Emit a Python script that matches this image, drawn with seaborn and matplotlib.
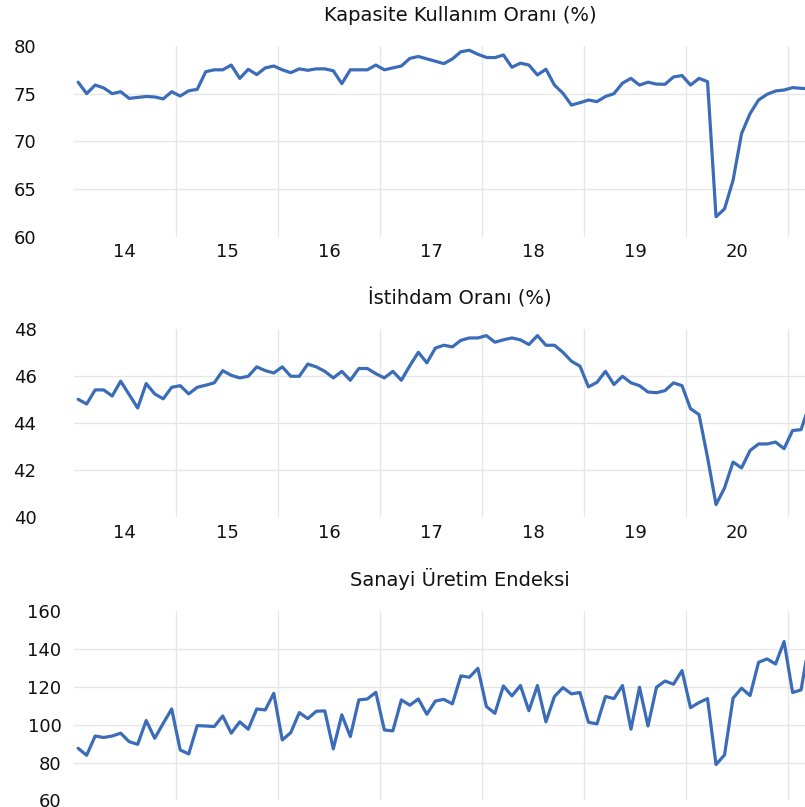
import numpy as np
import pandas as pd
import matplotlib
matplotlib.use("Agg")
import matplotlib.pyplot as plt
import seaborn as sns

# monthly series, Jan 2014 onwards
months = pd.date_range("2014-01-01", periods=87, freq="MS")

kapasite = [76.2, 75.0, 75.9, 75.6, 75.0, 75.2, 74.5, 74.6, 74.7, 74.65, 74.45, 75.2, 74.75, 75.3, 75.45,
            77.3, 77.5, 77.5, 78.0, 76.6, 77.55, 77.0, 77.7, 77.9, 77.5, 77.2, 77.6, 77.45, 77.6, 77.6,
            77.4, 76.05, 77.5, 77.5, 77.5, 78.0, 77.5, 77.7, 77.9, 78.7, 78.9, 78.65, 78.4,
            78.15, 78.64, 79.4, 79.55, 79.13, 78.8, 78.78, 79.06, 77.77, 78.2, 78.0, 76.96, 77.56, 75.9, 75.03,
            73.8, 74.05, 74.33, 74.16, 74.7, 75.0, 76.1, 76.6, 75.9, 76.2, 76.0, 75.98, 76.75, 76.9, 75.9,
            76.6, 76.26, 62.08, 62.9, 65.9, 70.8, 72.9, 74.33, 74.93, 75.28, 75.38, 75.63, 75.56, 75.5]

istihdam = [45.02, 44.82, 45.42, 45.42, 45.16, 45.79, 45.22, 44.65, 45.69, 45.25, 45.04, 45.53, 45.6, 45.25, 45.53,
            45.62, 45.72, 46.24, 46.04, 45.93, 46.0, 46.4, 46.24, 46.14, 46.4, 46.0, 46.0, 46.52, 46.4, 46.21,
            45.93, 46.21, 45.83, 46.33, 46.33, 46.11, 45.93, 46.21, 45.83, 46.45, 47.02, 46.57, 47.2,
            47.32, 47.25, 47.53, 47.63, 47.63, 47.73, 47.45, 47.55, 47.63, 47.55, 47.35, 47.73, 47.32, 47.32, 47.02,
            46.64, 46.43, 45.55, 45.74, 46.21, 45.65, 46.0, 45.72, 45.6, 45.33, 45.3, 45.39, 45.72, 45.6, 44.62,
            44.37, 42.55, 40.54, 41.25, 42.35, 42.1, 42.84, 43.12, 43.12, 43.2, 42.92, 43.69, 43.73, 44.82]

sanayi = [87.6, 83.9, 94.1, 93.3, 94.1, 95.6, 91.1, 89.7, 102.3, 92.9, 100.8, 108.4, 86.7, 84.6, 99.6,
          99.4, 99.1, 104.7, 95.6, 101.6, 97.7, 108.4, 107.9, 116.7, 92.0, 95.9, 106.5, 103.3, 107.2, 107.4,
          87.3, 105.3, 93.8, 113.2, 113.7, 117.2, 97.3, 96.8, 113.2, 110.4, 113.7, 105.6, 112.6,
          113.5, 111.1, 125.9, 125.2, 129.9, 109.7, 106.1, 120.6, 115.3, 120.8, 107.5, 120.8, 101.6, 115.0, 119.7,
          116.4, 117.1, 101.4, 100.5, 115.0, 113.9, 120.8, 97.7, 119.9, 99.4, 119.9, 123.2, 121.5, 128.7, 109.1,
          111.8, 113.9, 79.0, 84.1, 114.1, 119.4, 115.5, 133.1, 134.9, 132.2, 144.1, 117.1, 118.5, 145.0]

titles = ["Kapasite Kullanım Oranı (%)", "İstihdam Oranı (%)", "Sanayi Üretim Endeksi"]
yticks = [[60, 65, 70, 75, 80], [40, 42, 44, 46, 48], [60, 80, 100, 120, 140, 160]]
year_labels = ["14", "15", "16", "17", "18", "19", "20"]

df = pd.DataFrame({"ay": months, "idx": np.arange(len(months)),
                   "kapasite": kapasite, "istihdam": istihdam, "sanayi": sanayi})

# year centres and year boundaries in month-index units
year_mid = [df.loc[df.ay.dt.year == 2000 + int(y), "idx"].mean() for y in year_labels]
year_edges = df.loc[(df.ay.dt.month == 1) & (df.idx > 0), "idx"].values - 0.5

sns.set_style("white")
plt.rcParams["font.family"] = ["DejaVu Sans"]

blue = "#3b6cb8"
fig = plt.figure(figsize=(8.05, 8.07), dpi=100)
boxes = [[0.0919, 0.7069, 0.9081, 0.2361],
         [0.0919, 0.3590, 0.9081, 0.2330],
         [0.0919, 0.0081, 0.9081, 0.2342]]
cols = ["kapasite", "istihdam", "sanayi"]
ypads = [27, 27, 9]

for k in range(3):
    ax = fig.add_axes(boxes[k])
    sns.lineplot(data=df, x="idx", y=cols[k], ax=ax, color=blue, linewidth=2.3)
    ax.set_xlim(-0.49, 85.46)
    ax.set_ylim(yticks[k][0], yticks[k][-1])
    ax.set_yticks(yticks[k])
    ax.set_xticks(year_mid)
    ax.set_xticklabels(year_labels if k < 2 else [])
    ax.set_xticks(year_edges, minor=True)
    ax.set_xlabel("")
    ax.set_ylabel("")
    ax.grid(False)
    ax.grid(True, axis="y", color="#e6e6e6", linewidth=1.0)
    ax.grid(True, axis="x", which="minor", color="#e6e6e6", linewidth=1.0)
    ygl = ax.yaxis.get_major_ticks()
    ygl[0].gridline.set_visible(False)
    ygl[-1].gridline.set_visible(False)
    ax.tick_params(axis="y", length=0, pad=ypads[k], labelsize=13, labelcolor="#111111")
    ax.tick_params(axis="x", which="both", length=0, pad=5, labelsize=13, labelcolor="#111111")
    for s in ax.spines.values():
        s.set_visible(False)
    ax.text(0.528, 1.133, titles[k], transform=ax.transAxes, ha="center", va="baseline",
            fontsize=14, color="#111111")

fig.savefig("out.png", dpi=100)
